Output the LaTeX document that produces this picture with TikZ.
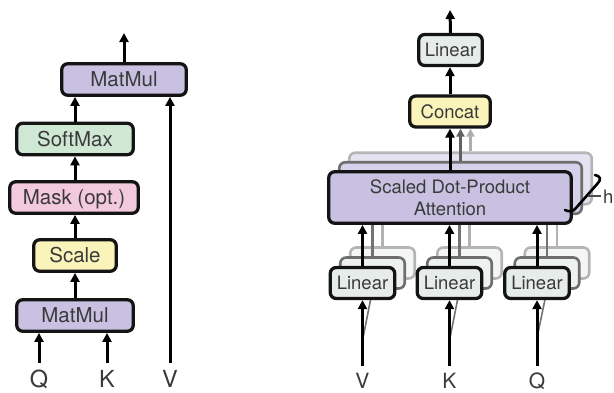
\documentclass[tikz,border=0pt]{standalone}
\usepackage{fontspec}
\setmainfont{TeX Gyre Heros}
\usetikzlibrary{arrows.meta}
\definecolor{txt}{HTML}{3A3A3A}
\definecolor{purp}{HTML}{C8C1E2}
\definecolor{purpA}{HTML}{D6D0EA}
\definecolor{purpB}{HTML}{E5E2F2}
\definecolor{grn}{HTML}{CFE8D4}
\definecolor{pnk}{HTML}{F3C9DD}
\definecolor{ylw}{HTML}{FAF4BA}
\definecolor{lgr}{HTML}{E5ECE9}
\definecolor{lgrA}{HTML}{EDF1EF}
\definecolor{lgrB}{HTML}{F4F6F5}
\definecolor{edgeA}{HTML}{6E6E6E}
\definecolor{edgeB}{HTML}{B5B5B5}
\tikzset{
  box/.style={draw=black!92, line width=3.3pt, rounded corners=6pt, inner sep=0pt,
    text=txt, text depth=0pt},
  lft/.style={box, font=\fontsize{20.5}{24}\selectfont, text height=14.8pt, minimum height=31.5pt},
  rgt/.style={box, font=\fontsize{18.5}{22}\selectfont, text height=13.3pt, minimum height=31pt},
  copyA/.style={draw=edgeA, line width=2.6pt, rounded corners=6pt, inner sep=0pt},
  copyB/.style={draw=edgeB, line width=2.6pt, rounded corners=6pt, inner sep=0pt},
  headbox/.style={minimum width=242.5pt, minimum height=51.5pt},
  linbox/.style={minimum width=64.5pt, minimum height=31pt},
  arr/.style={line width=3pt, -{Triangle[length=9pt,width=9pt]}},
  garrA/.style={line width=2.6pt, draw=black!62, -{Triangle[length=8pt,width=8pt]}, color=black!62},
  garrB/.style={line width=2.6pt, draw=black!32, -{Triangle[length=8pt,width=8pt]}, color=black!32},
  glineA/.style={line width=2.4pt, draw=black!55},
  glineB/.style={line width=2.4pt, draw=black!30},
  inlab/.style={text=txt, anchor=base, inner sep=0pt},
}
\begin{document}
\begin{tikzpicture}[x=1pt, y=-1pt]
\useasboundingbox (0,0) rectangle (614,392);
\clip (0,0) rectangle (614,392);

% ---------------- scaled dot-product attention ----------------
\node[lft, fill=purp, minimum width=124.5pt] (mmtop) at (124,79.5) {MatMul};
\node[lft, fill=grn,  minimum width=116.5pt] (soft)  at (75,139) {SoftMax};
\node[lft, fill=pnk,  minimum width=128.5pt] (mask)  at (74,197.5) {Mask (opt.)};
\node[lft, fill=ylw,  minimum width=82.5pt]  (scale) at (75,255.5) {Scale};
\node[lft, fill=purp, minimum width=116.5pt] (mmbot) at (75,315.5) {MatMul};

\coordinate (outL) at (124,33);
\coordinate (qinL) at (39,363);
\coordinate (kinL) at (107,363);
\coordinate (vinL) at (170,363);

\draw[arr] (mmtop.north) -- (outL);
\draw[arr] (soft.north) -- (soft.north |- mmtop.south);
\draw[arr] (mask.north -| soft.north) -- (soft.south);
\draw[arr] (scale.north) -- (scale.north |- mask.south);
\draw[arr] (mmbot.north) -- (scale.south);
\draw[arr] (qinL) -- (qinL |- mmbot.south);
\draw[arr] (kinL) -- (kinL |- mmbot.south);
\draw[arr] (vinL) -- (vinL |- mmtop.south);

\node[inlab, font=\fontsize{23.5}{26}\selectfont] (qL) at (39,387) {Q};
\node[inlab, font=\fontsize{23.5}{26}\selectfont] (kL) at (107,387) {K};
\node[inlab, font=\fontsize{23.5}{26}\selectfont] (vL) at (170,387) {V};

% ---------------- multi-head attention ----------------
% heads stacked behind the front one
\node[copyB, headbox, fill=purpB] (attB) at (470.5,178.5) {};
\node[copyB, linbox, fill=lgrB] (linVB) at (382.5,263) {};
\node[copyB, linbox, fill=lgrB] (linKB) at (469.5,263) {};
\node[copyB, linbox, fill=lgrB] (linQB) at (557,263) {};
\draw[glineB] (linVB.north) -- (linVB.north |- attB.south);
\draw[glineB] (linKB.north) -- (linKB.north |- attB.south);
\draw[glineB] (linQB.north) -- (linQB.north |- attB.south);

\node[copyA, headbox, fill=purpA] (attA) at (460.5,188) {};
\node[copyA, linbox, fill=lgrA] (linVA) at (372.5,273) {};
\node[copyA, linbox, fill=lgrA] (linKA) at (459.5,273) {};
\node[copyA, linbox, fill=lgrA] (linQA) at (547,273) {};
\draw[glineA] (linVA.north) -- (linVA.north |- attA.south);
\draw[glineA] (linKA.north) -- (linKA.north |- attA.south);
\draw[glineA] (linQA.north) -- (linQA.north |- attA.south);

\coordinate (vsh) at (363,338);
\coordinate (ksh) at (450,338);
\coordinate (qsh) at (537,338);
\draw[glineA, line width=1.6pt] (vsh) -- (linVA.south);
\draw[glineA, line width=1.6pt] (ksh) -- (linKA.south);
\draw[glineA, line width=1.6pt] (qsh) -- (linQA.south);

% front head
\node[rgt, headbox, fill=purp, text height=, text depth=, align=center] (att) at (450,197.5)
      {Scaled Dot-Product\\Attention};
\node[rgt, linbox, fill=lgr] (linV) at (362.5,283) {Linear};
\node[rgt, linbox, fill=lgr] (linK) at (449.5,283) {Linear};
\node[rgt, linbox, fill=lgr] (linQ) at (537,283) {Linear};

\node[rgt, fill=ylw, minimum width=80.5pt] (concat) at (450,111.5) {Concat};
\node[rgt, fill=lgr, minimum width=63.5pt] (linO) at (450.5,50) {Linear};
\coordinate (outR) at (450,10);

% outputs of every head feed Concat
\draw[garrB] (attB.north) -- (attB.north |- concat.south);
\draw[garrA] (attA.north) -- (attA.north |- concat.south);
\draw[arr] (att.north) -- (att.north |- concat.south);
\draw[arr] (concat.north) -- (concat.north |- linO.south);
\draw[arr] (linO.north) -- (outR);

\draw[arr] (linV.north) -- (linV.north |- att.south);
\draw[arr] (linK.north) -- (linK.north |- att.south);
\draw[arr] (linQ.north) -- (linQ.north |- att.south);

\coordinate (vinR) at (362.5,366);
\coordinate (kinR) at (449.5,366);
\coordinate (qinR) at (537,366);
\draw[arr] (vinR) -- (linV.south);
\draw[arr] (kinR) -- (linK.south);
\draw[arr] (qinR) -- (linQ.south);

\node[inlab, font=\fontsize{21}{24}\selectfont] (vR) at (362.5,388) {V};
\node[inlab, font=\fontsize{21}{24}\selectfont] (kR) at (449.5,388) {K};
\node[inlab, font=\fontsize{21}{24}\selectfont] (qR) at (537,388) {Q};

% brace marking the h parallel heads
\coordinate (brTop) at (595,175);
\coordinate (brBot) at (565,210);
\coordinate (brMid) at (588,196);
\coordinate (brTip) at (601,196);
\draw[line width=2.6pt, line cap=round, line join=round]
  (brTop) .. controls (601,176) and (601,180) .. (598,183)
  -- (576,208) .. controls (573,212) and (569,212) .. (brBot);
\draw[line width=1.8pt, draw=black!70] (brMid) -- (brTip);
\node[text=txt, anchor=west, inner sep=0pt, font=\fontsize{18.5}{22}\selectfont] (hlab) at (603,197) {h};
\end{tikzpicture}
\end{document}
